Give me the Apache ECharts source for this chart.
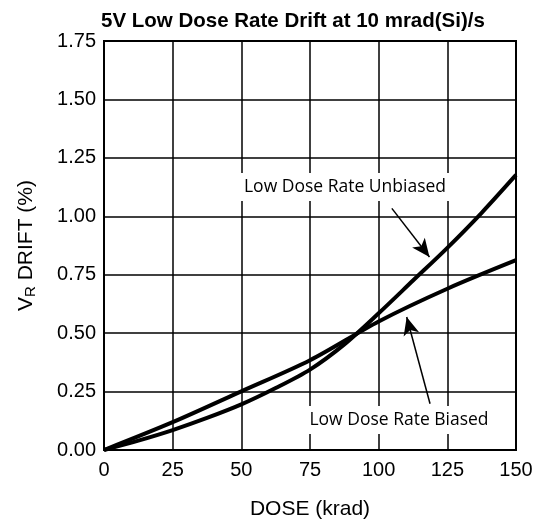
<!DOCTYPE html>
<html>
<head>
<meta charset="utf-8">
<script src="https://cdn.jsdelivr.net/npm/echarts@6/dist/echarts.min.js"></script>
<style>
html, body { margin: 0; padding: 0; background: #fff; }
#chart { width: 541px; height: 525px; }
</style>
</head>
<body>
<div id="chart"></div>
<script>
// 数据
var unbiasedDose = [0, 12.5, 25, 37.5, 50, 62.5, 75, 87.5, 100, 112.5, 125, 137.5, 150];
var unbiasedDrift = [0, 0.04, 0.085, 0.137, 0.195, 0.265, 0.344, 0.452, 0.585, 0.725, 0.865, 1.015, 1.177];
var biasedDose = [0, 25, 50, 75, 100, 125, 150];
var biasedDrift = [0, 0.119, 0.251, 0.384, 0.55, 0.69, 0.812];

function pairs(xs, ys) {
    var out = [];
    for (var i = 0; i < xs.length; i++) out.push([xs[i], ys[i]]);
    return out;
}

var myChart = echarts.init(document.getElementById('chart'));
var font = 'Liberation Sans, Arial, sans-serif';

var option = {
    animation: false,
    title: {
        text: '5V Low Dose Rate Drift at 10 mrad(Si)/s',
        left: 96,
        top: 6,
        textStyle: { fontFamily: font, fontSize: 20.5, fontWeight: 'bold', color: '#000' }
    },
    grid: {
        left: 104,
        right: 25,
        top: 41,
        bottom: 75,
        show: true,
        borderColor: '#000',
        borderWidth: 2
    },
    xAxis: {
        type: 'value',
        min: 0,
        max: 150,
        interval: 25,
        name: 'DOSE (krad)',
        nameLocation: 'middle',
        nameGap: 49,
        nameTextStyle: { fontFamily: font, fontSize: 21, color: '#000' },
        axisLine: { show: false },
        axisTick: { show: false },
        axisLabel: { fontFamily: font, fontSize: 20, color: '#000', margin: 10 },
        splitLine: { show: true, lineStyle: { color: '#000', width: 1.5 } }
    },
    yAxis: {
        type: 'value',
        min: 0,
        max: 1.75,
        interval: 0.25,
        name: '{a|V}{b|R}{a| DRIFT (%)}',
        nameLocation: 'middle',
        nameGap: 66,
        nameTextStyle: {
            rich: {
                a: { fontFamily: font, fontSize: 21, color: '#000' },
                b: { fontFamily: font, fontSize: 15, color: '#000', padding: [9, 0, 0, 0] }
            }
        },
        axisLine: { show: false },
        axisTick: { show: false },
        axisLabel: {
            fontFamily: font, fontSize: 20, color: '#000', margin: 8,
            formatter: function (v) { return v.toFixed(2); }
        },
        splitLine: { show: true, lineStyle: { color: '#000', width: 1.5 } }
    },
    series: [
        {
            name: 'Low Dose Rate Unbiased',
            type: 'line',
            data: pairs(unbiasedDose, unbiasedDrift),
            showSymbol: false,
            smooth: 0.3,
            lineStyle: { color: '#000', width: 4 },
            markLine: {
                silent: true,
                symbol: ['none', 'arrow'],
                symbolSize: [12, 18],
                label: { show: false },
                lineStyle: { color: '#000', width: 1.5, type: 'solid' },
                data: [[{ coord: [104.8, 1.034] }, { coord: [118.5, 0.826] }]]
            }
        },
        {
            name: 'Low Dose Rate Biased',
            type: 'line',
            data: pairs(biasedDose, biasedDrift),
            showSymbol: false,
            smooth: 0.3,
            lineStyle: { color: '#000', width: 4 },
            markLine: {
                silent: true,
                symbol: ['none', 'arrow'],
                symbolSize: [12, 18],
                label: { show: false },
                lineStyle: { color: '#000', width: 1.5, type: 'solid' },
                data: [[{ coord: [118.7, 0.198] }, { coord: [110.2, 0.569] }]]
            }
        }
    ],
    graphic: [
        {
            type: 'text',
            x: 345, y: 187, z: 10,
            style: {
                text: 'Low Dose Rate Unbiased',
                font: '17.5px "Open Sans", sans-serif',
                fill: '#000',
                align: 'center',
                verticalAlign: 'middle',
                backgroundColor: '#fff',
                padding: [5, 3]
            }
        },
        {
            type: 'text',
            x: 399, y: 420, z: 10,
            style: {
                text: 'Low Dose Rate Biased',
                font: '17.5px "Open Sans", sans-serif',
                fill: '#000',
                align: 'center',
                verticalAlign: 'middle',
                backgroundColor: '#fff',
                padding: [5, 3]
            }
        }
    ]
};
myChart.setOption(option);
</script>
</body>
</html>
